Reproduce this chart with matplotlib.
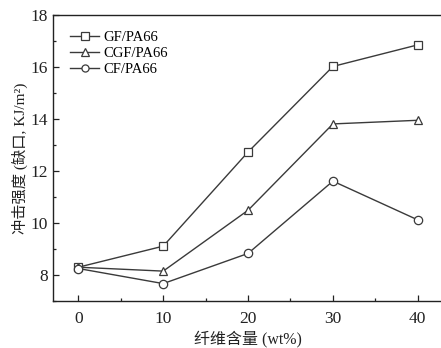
import matplotlib
matplotlib.use("Agg")
import matplotlib.pyplot as plt
from matplotlib.ticker import MultipleLocator

plt.rcParams['font.family'] = ['Liberation Serif', 'Noto Sans CJK SC', 'DejaVu Sans']

fiber_content = [0, 10, 20, 30, 40]
gf_pa66 = [8.30, 9.11, 12.73, 16.02, 16.85]
cgf_pa66 = [8.30, 8.15, 10.49, 13.81, 13.95]
cf_pa66 = [8.25, 7.67, 8.83, 11.61, 10.12]
series_labels = ['GF/PA66', 'CGF/PA66', 'CF/PA66']

fig = plt.figure(figsize=(4.41, 3.48), dpi=100)
ax = fig.add_axes([0.120, 0.135, 0.885, 0.822])

color = '#3a3a3a'
for y, m, lab in zip([gf_pa66, cgf_pa66, cf_pa66], ['s', '^', 'o'], series_labels):
    ax.plot(fiber_content, y, marker=m, color=color, lw=1.0, ms=6,
            mfc='white', mec=color, mew=0.9, label=lab)

ax.set_xlim(-3, 43)
ax.set_ylim(7, 18)
ax.xaxis.set_major_locator(MultipleLocator(10))
ax.xaxis.set_minor_locator(MultipleLocator(5))
ax.yaxis.set_minor_locator(MultipleLocator(1))
ax.set_yticks([8, 10, 12, 14, 16, 18])
ax.tick_params(which='both', direction='in', labelsize=12.5, colors='#222222', width=0.9)
ax.tick_params(which='major', length=4)
ax.tick_params(which='minor', length=2.5)
ax.tick_params(axis='x', pad=7)
for s in ['left', 'bottom', 'top']:
    ax.spines[s].set_linewidth(1.0)
    ax.spines[s].set_color('#222222')
ax.spines['right'].set_visible(False)

ax.set_xlabel('纤维含量 (wt%)', fontsize=11.5, color='#222222', labelpad=3)
ax.set_ylabel('冲击强度 (缺口, KJ/m²)', fontsize=11, color='#222222', labelpad=2)

leg = ax.legend(loc='upper left', frameon=False, fontsize=10.5, handlelength=2.0,
                labelspacing=0.2, handletextpad=0.3, borderaxespad=0.5,
                markerscale=0.85, bbox_to_anchor=(0.01, 0.99))

fig.savefig('out.png', dpi=100)
